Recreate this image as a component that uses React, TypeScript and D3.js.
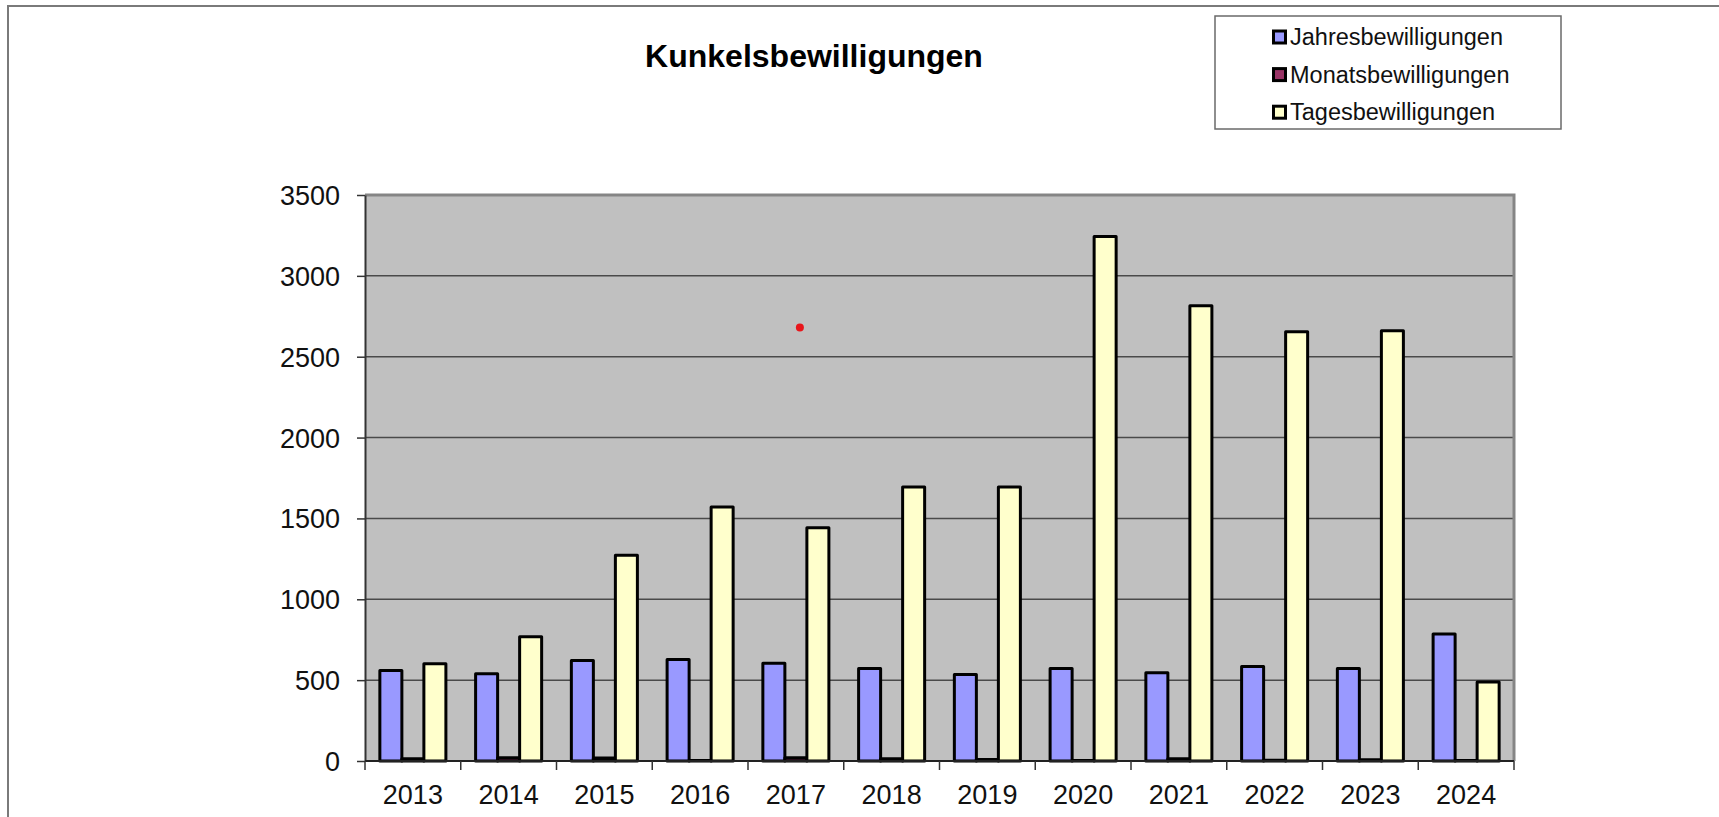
import { useEffect, useRef } from 'react';
import { axisLeft, scaleBand, scaleLinear, select } from 'd3';

const years = ['2013', '2014', '2015', '2016', '2017', '2018', '2019', '2020', '2021', '2022', '2023', '2024'];
const jahres = [559, 539, 621, 627, 605, 572, 535, 572, 545, 584, 572, 786];
const monats = [14, 20, 18, 3, 20, 14, 10, 3, 14, 4, 8, 3];
const tages = [601, 769, 1273, 1571, 1442, 1695, 1695, 3244, 2815, 2654, 2660, 488];
const seriesNames = ['Jahresbewilligungen', 'Monatsbewilligungen', 'Tagesbewilligungen'];
const seriesColors = ['#9999FF', '#993366', '#FFFFCC'];
const yTicks = [0, 500, 1000, 1500, 2000, 2500, 3000, 3500];
// stray red dot in the original screenshot
const redDot = { year: '2017', value: 2680 };

const W = 1719;
const H = 817;
const plot = { left: 365, right: 1514, top: 195, bottom: 761 };
const font = '"Liberation Sans", Arial, sans-serif';

export default function App() {
  const svgRef = useRef<SVGSVGElement>(null);

  useEffect(() => {
    document.body.style.margin = '0';
    const svg = select(svgRef.current);
    svg.selectAll('*').remove();

    const x0 = scaleBand<string>().domain(years).range([plot.left, plot.right]);
    const x1 = scaleBand<string>()
      .domain(seriesNames)
      .range([0, x0.bandwidth()])
      .paddingInner(0)
      .paddingOuter(0.675);
    const y = scaleLinear().domain([0, 3500]).range([plot.bottom, plot.top]);

    // outer frame
    svg
      .append('rect')
      .attr('x', 8)
      .attr('y', 6)
      .attr('width', W + 20)
      .attr('height', H + 20)
      .attr('fill', 'white')
      .attr('stroke', '#7a7a7a')
      .attr('stroke-width', 2);

    svg
      .append('text')
      .attr('x', 814)
      .attr('y', 67)
      .attr('text-anchor', 'middle')
      .attr('font-family', font)
      .attr('font-weight', 'bold')
      .attr('font-size', 32)
      .text('Kunkelsbewilligungen');

    // plot area
    svg
      .append('rect')
      .attr('x', plot.left)
      .attr('y', plot.top)
      .attr('width', plot.right - plot.left)
      .attr('height', plot.bottom - plot.top)
      .attr('fill', '#C0C0C0');

    svg
      .append('g')
      .selectAll('line')
      .data(yTicks.slice(1, -1))
      .join('line')
      .attr('x1', plot.left)
      .attr('x2', plot.right)
      .attr('y1', (d) => y(d))
      .attr('y2', (d) => y(d))
      .attr('stroke', '#4a4a4a')
      .attr('stroke-width', 1.5);

    // top + right border of plot area
    svg
      .append('path')
      .attr('d', `M${plot.left},${plot.top}H${plot.right}V${plot.bottom}`)
      .attr('fill', 'none')
      .attr('stroke', '#858585')
      .attr('stroke-width', 3);

    // bars
    const rows = years.map((yr, i) => ({
      year: yr,
      values: [jahres[i], monats[i], tages[i]],
    }));

    svg
      .append('g')
      .selectAll('g')
      .data(rows)
      .join('g')
      .attr('transform', (d) => `translate(${x0(d.year)},0)`)
      .selectAll('rect')
      .data((d) => d.values.map((v, j) => ({ key: seriesNames[j], v, j })))
      .join('rect')
      .attr('x', (d) => x1(d.key)!)
      .attr('width', x1.bandwidth())
      .attr('y', (d) => y(d.v))
      .attr('height', (d) => y(0) - y(d.v))
      .attr('fill', (d) => seriesColors[d.j])
      .attr('stroke', '#000')
      .attr('stroke-width', 3)
      .attr('stroke-linejoin', 'round');

    // y axis
    const yAxis = svg
      .append('g')
      .attr('transform', `translate(${plot.left},0)`)
      .call(
        axisLeft(y)
          .tickValues(yTicks)
          .tickFormat((d) => String(d))
          .tickSize(8)
          .tickPadding(17)
          .tickSizeOuter(0),
      );
    yAxis.select('.domain').attr('stroke', '#333').attr('stroke-width', 2);
    yAxis.selectAll('.tick line').attr('stroke', '#333').attr('stroke-width', 1.5);
    yAxis
      .selectAll('.tick text')
      .attr('font-family', font)
      .attr('font-size', 27)
      .attr('fill', '#111')
      .attr('dy', '0.35em');

    // x axis
    const xAxis = svg.append('g');
    xAxis
      .append('line')
      .attr('x1', plot.left)
      .attr('x2', plot.right)
      .attr('y1', plot.bottom)
      .attr('y2', plot.bottom)
      .attr('stroke', '#222')
      .attr('stroke-width', 2);
    const edges = years.map((d) => x0(d)!).concat([plot.right]);
    xAxis
      .selectAll('line.tick')
      .data(edges)
      .join('line')
      .attr('class', 'tick')
      .attr('x1', (d) => d)
      .attr('x2', (d) => d)
      .attr('y1', plot.bottom)
      .attr('y2', plot.bottom + 9)
      .attr('stroke', '#333')
      .attr('stroke-width', 1.5);
    xAxis
      .selectAll('text')
      .data(years)
      .join('text')
      .attr('x', (d) => x0(d)! + x0.bandwidth() / 2)
      .attr('y', 804)
      .attr('text-anchor', 'middle')
      .attr('font-family', font)
      .attr('font-size', 27)
      .attr('fill', '#111')
      .text((d) => d);

    svg
      .append('circle')
      .attr('cx', x0(redDot.year)! + x0.bandwidth() / 2 + 4)
      .attr('cy', y(redDot.value))
      .attr('r', 4)
      .attr('fill', '#e8161b');

    // legend
    const legend = svg.append('g');
    legend
      .append('rect')
      .attr('x', 1215)
      .attr('y', 16)
      .attr('width', 346)
      .attr('height', 113)
      .attr('fill', 'white')
      .attr('stroke', '#6a6a6a')
      .attr('stroke-width', 1.5);
    const items = legend
      .selectAll('g')
      .data(seriesNames)
      .join('g')
      .attr('transform', (d, i) => `translate(1272,${37 + i * 37.6})`);
    items
      .append('rect')
      .attr('x', 1.5)
      .attr('y', -6)
      .attr('width', 12)
      .attr('height', 12)
      .attr('fill', (d, i) => seriesColors[i])
      .attr('stroke', '#000')
      .attr('stroke-width', 3);
    items
      .append('text')
      .attr('x', 18)
      .attr('dy', '0.35em')
      .attr('font-family', font)
      .attr('font-size', 23.5)
      .attr('fill', '#111')
      .text((d) => d);
  }, []);

  return <svg ref={svgRef} width={W} height={H} style={{ display: 'block' }} />;
}
